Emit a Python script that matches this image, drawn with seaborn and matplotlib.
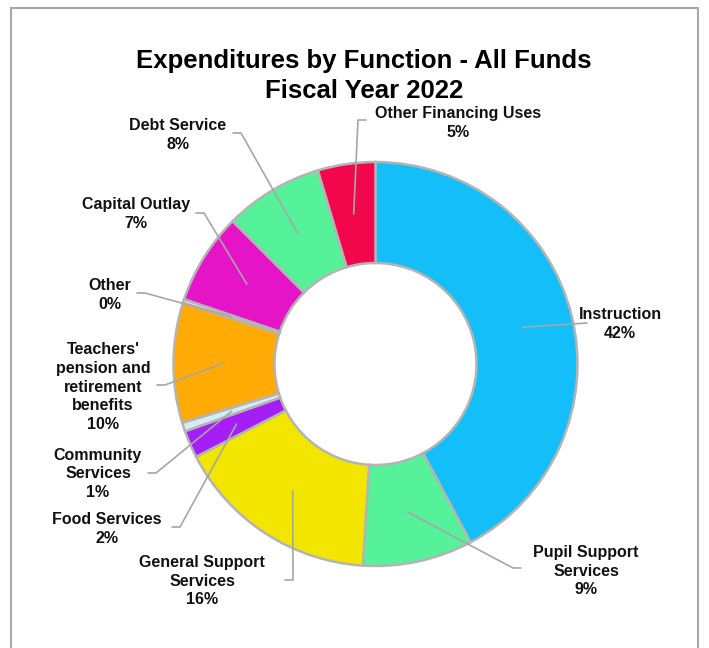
import numpy as np
import pandas as pd
import seaborn as sns
import matplotlib.pyplot as plt
from matplotlib.patches import Rectangle

# Data (clockwise from 12 o'clock)
categories = ['Instruction', 'Pupil Support\nServices', 'General Support\nServices',
              'Food Services', 'Community\nServices',
              "Teachers'\npension and\nretirement\nbenefits", 'Other',
              'Capital Outlay', 'Debt Service', 'Other Financing Uses']
shares = [42.2, 8.8, 16.4, 2.2, 0.7, 9.6, 0.3, 7.3, 7.9, 4.6]
colors = ['#14BEF8', '#55F29A', '#F2E500', '#A41EF5', '#D4ECF4',
          '#FFAA05', '#E4E4E4', '#E514C7', '#55F29A', '#F2064C']

# Label text centres and leader-line ends, in pixels from the top-left corner
label_pos = [(620, 324), (586, 571), (202, 581), (107, 529), (98, 474),
             (103, 387), (110, 295), (136, 214), (178, 135), (458, 123)]
leader_end = [(587, 323), (521, 568), (285, 580), (172, 527), (148, 473),
              (157, 385), (137, 293), (196, 213), (233, 133), (366, 120)]

df = pd.DataFrame({'category': categories, 'share': shares, 'color': colors})

sns.set_theme(style='white')
plt.rcParams['font.family'] = ['Liberation Sans', 'DejaVu Sans']

W, H = 709, 648
fig = plt.figure(figsize=(W / 100, H / 100), dpi=100)
ax = fig.add_axes([0, 0, 1, 1])

# outer frame
ax.add_patch(Rectangle((11, -5), 687, H - 8 + 5, fill=False, edgecolor='#A8A8A8', lw=1.5))

cx, cy, R = 375.5, H - 364, 202
wedges, _ = ax.pie(df['share'], colors=df['color'], startangle=90, counterclock=False,
                   center=(cx, cy), radius=R, frame=True,
                   wedgeprops=dict(width=R * 0.5, edgecolor='#B4B4B4', linewidth=1.8))
ax.set_xlim(0, W)
ax.set_ylim(0, H)
ax.axis('off')

# leader lines and labels
for w, pct, name, (tx, ty), (ex, ey) in zip(wedges, df['share'], df['category'],
                                          label_pos, leader_end):
    ang = np.deg2rad((w.theta1 + w.theta2) / 2)
    sx, sy = cx + 0.75 * R * np.cos(ang), cy + 0.75 * R * np.sin(ang)
    stub = 8 if ex > tx else -8
    if name == 'Instruction':
        xs, ys = [sx, ex], [sy, H - ey]
    else:
        xs, ys = [sx, ex + stub, ex], [sy, H - ey, H - ey]
    ax.plot(xs, ys, color='#A6A6A6', lw=1.2, zorder=3)
    ax.text(tx, H - ty, f'{name}\n{round(pct):.0f}%', ha='center', va='center',
            fontsize=11.5, fontweight='bold', color='#111111', linespacing=1.33)

ax.text(364, H - 76, 'Expenditures by Function - All Funds\nFiscal Year 2022',
        ha='center', va='center', fontsize=18.5, fontweight='bold', color='black',
        linespacing=1.28)

fig.savefig('out.png', dpi=100)
